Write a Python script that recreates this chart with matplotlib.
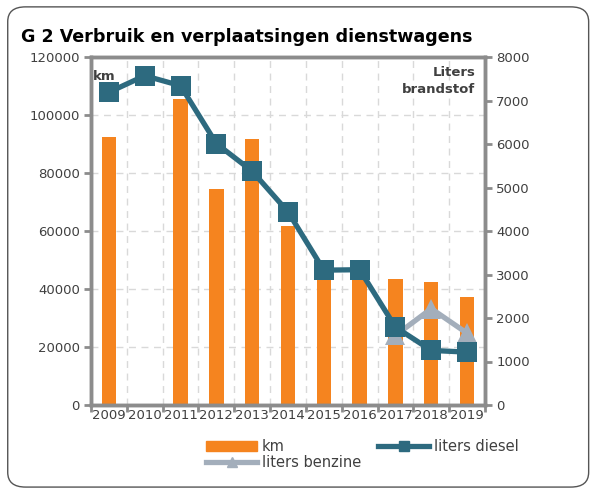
import numpy as np
import matplotlib
matplotlib.use("Agg")
import matplotlib.pyplot as plt
from matplotlib.patches import FancyBboxPatch
from matplotlib.lines import Line2D
from matplotlib.patches import Patch

# data
years = ["2009", "2010", "2011", "2012", "2013", "2014", "2015", "2016", "2017", "2018", "2019"]
km = [92500, np.nan, 105500, 74400, 91600, 61700, 44500, 44000, 43600, 42300, 37400]
liters_diesel = [7190, 7570, 7340, 6010, 5375, 4440, 3100, 3110, 1790, 1255, 1215]
liters_benzine = [np.nan, np.nan, np.nan, np.nan, np.nan, np.nan, np.nan, np.nan, 1600, 2215, 1650]

orange = "#F5841F"
diesel_col = "#2D6A7F"
benzine_col = "#A3AEBB"
spine_col = "#8C8C8C"
grid_col = "#D9D9D9"
text_col = "#404040"

fig = plt.figure(figsize=(5.94, 4.91), dpi=100)

# rounded frame round the chart
frame = FancyBboxPatch((0.013, 0.008), 0.978, 0.978, boxstyle="round,pad=0,rounding_size=0.03",
                       transform=fig.transFigure, fill=False, edgecolor="#555555", linewidth=1.0)
fig.patches.append(frame)

fig.text(21 / 594, 1 - 37 / 491, "G 2 Verbruik en verplaatsingen dienstwagens",
         fontsize=12.6, fontweight="bold", color="black", va="center", ha="left")

ax = fig.add_axes([91 / 594, 86 / 491, 394 / 594, 348 / 491])
x = np.arange(len(years))

#Bars for km
ax.bar(x, km, width=0.4, color=orange, zorder=2)
ax.set_xlim(-0.5, len(years) - 0.5)
ax.set_ylim(0, 120000)
ax.set_yticks(range(0, 120001, 20000))
ax.set_xticks(x)
ax.set_xticklabels(years)
ax.set_xticks(np.arange(-0.5, len(years), 1), minor=True)
ax.tick_params(axis="x", which="major", length=0, pad=3, labelsize=9.5, labelcolor=text_col)
ax.tick_params(axis="x", which="minor", length=5, width=2, color=spine_col, direction="out")
ax.tick_params(axis="y", length=5, width=2, color=spine_col, labelsize=9.5, labelcolor=text_col, pad=3)
ax.grid(axis="y", which="major", color=grid_col, linestyle=(0, (5, 4)), linewidth=1, zorder=0)
ax.grid(axis="x", which="minor", color=grid_col, linestyle=(0, (5, 4)), linewidth=1, zorder=0)
for s in ax.spines.values():
    s.set_color(spine_col)
    s.set_linewidth(2.5)

#Lines for liters on the right axis
ax2 = ax.twinx()
ax2.plot(x, liters_benzine, color=benzine_col, linewidth=3.8, marker="^", markersize=15,
         markeredgewidth=0, zorder=3)
ax2.plot(x, liters_diesel, color=diesel_col, linewidth=3.8, marker="s", markersize=14,
         markeredgewidth=0, zorder=4)
ax2.set_ylim(0, 8000)
ax2.set_yticks(range(0, 8001, 1000))
ax2.tick_params(axis="y", length=5, width=2, color=spine_col, labelsize=9.5, labelcolor=text_col, pad=3)
for s in ax2.spines.values():
    s.set_color(spine_col)
    s.set_linewidth(2.5)

ax.text(0.005, 0.945, "km", transform=ax.transAxes, fontsize=9.5, fontweight="bold",
        color=text_col, ha="left", va="center")
ax.text(0.975, 0.931, "Liters\nbrandstof", transform=ax.transAxes, fontsize=9.5, fontweight="bold",
        color=text_col, ha="right", va="center", linespacing=1.35)

handles = [Patch(color=orange),
           Line2D([], [], color=benzine_col, linewidth=3.8, marker="^", markersize=7),
           Line2D([], [], color=diesel_col, linewidth=3.8, marker="s", markersize=7)]
labels = ["km", "liters benzine", "liters diesel"]
fig.legend(handles, labels, loc="upper left", bbox_to_anchor=(199 / 594, 1 - 432 / 491), ncol=2,
           frameon=False, fontsize=10.5, handlelength=3.5, handletextpad=0.3, columnspacing=1.2,
           labelspacing=0.05, labelcolor=text_col, borderpad=0)

fig.savefig("out.png", dpi=100)
